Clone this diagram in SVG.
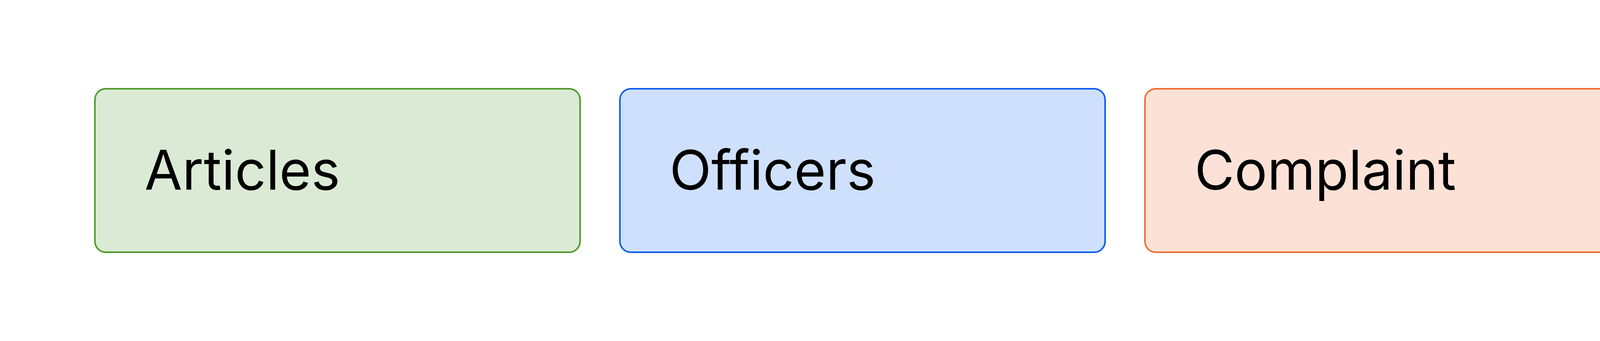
<svg xmlns="http://www.w3.org/2000/svg" width="5760" height="872" viewBox="0 0 5760 872">
<style>
.b{stroke-width:4}
.t{font-family:Inter,"Liberation Sans",sans-serif;font-size:140px;fill:#000}
</style>
<rect width="5760" height="872" fill="#fff"/>
<g id="connectors"/>
<g id="articles"><rect class="b" x="243" y="227" width="1242" height="418" rx="28" fill="#dbead5" stroke="#4e9a2a"/><text class="t" x="370" y="485">Articles</text></g>
<g id="officers"><rect class="b" x="1587" y="227" width="1242" height="418" rx="28" fill="#cfe0fc" stroke="#0b5cf2"/><text class="t" x="1714" y="485">Officers</text></g>
<g id="complaint"><rect class="b" x="2931" y="227" width="1242" height="418" rx="28" fill="#fce2d6" stroke="#ee6e2e"/><text class="t" x="3058" y="485">Complaint</text></g>
<g id="useofforce"><rect class="b" x="4275" y="227" width="1242" height="418" rx="28" fill="#f0c6c3" stroke="#cf4640"/><text class="t" x="4402" y="485">Use of Force</text></g>
</svg>
